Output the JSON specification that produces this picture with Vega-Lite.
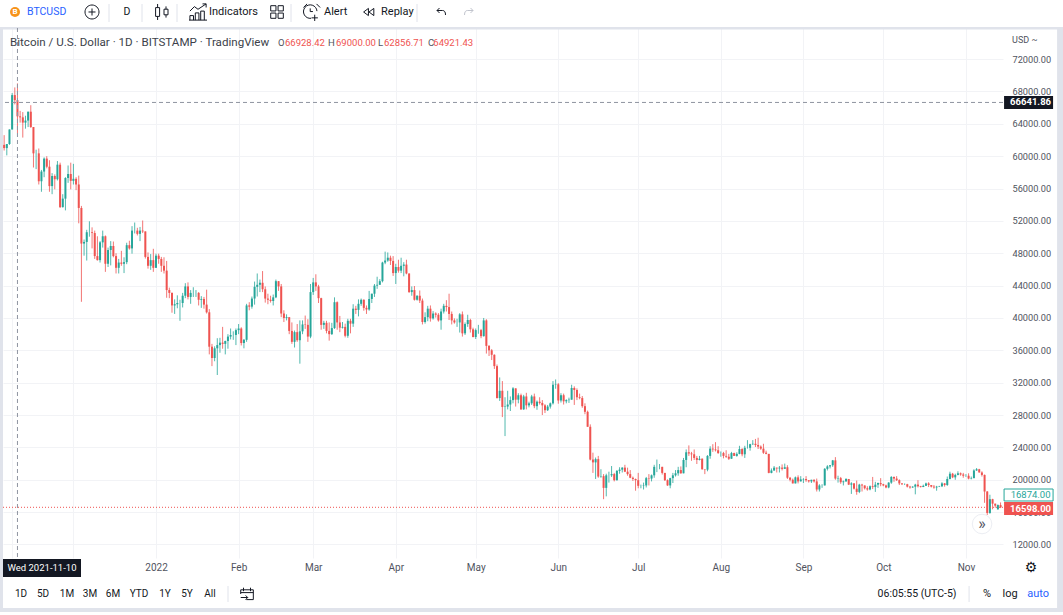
{"$schema":"https://vega.github.io/schema/vega-lite/v6.json","autosize":"none","width":1000,"height":530,"padding":{"left":3,"top":28,"right":60,"bottom":57},"background":"white",
"config":{"view":{"stroke":null},"point":{"strokeWidth":1},"text":{"font":"Roboto","fontSize":11,"color":"#131722"},"axis":{"labelFont":"Roboto","labelFontSize":9.2,"labelColor":"#50535e","gridColor":"#f2f3f6","gridWidth":1,"ticks":false,"domain":false,"title":null}},
"datasets":{"ohlc":[
{"d":"2021-11-05","o":61400,"h":62600,"l":60700,"c":61000},{"d":"2021-11-06","o":61000,"h":61500,"l":60100,"c":61500},{"d":"2021-11-07","o":61500,"h":63300,"l":61400,"c":63300},{"d":"2021-11-08","o":63300,"h":67800,"l":63300,"c":67550},{"d":"2021-11-09","o":67550,"h":68500,"l":66400,"c":66930},{"d":"2021-11-10","o":66928.42,"h":69000,"l":62856.71,"c":64921.43},{"d":"2021-11-11","o":64921,"h":65600,"l":64150,"c":64800},{"d":"2021-11-12","o":64800,"h":65450,"l":62300,"c":64150},{"d":"2021-11-13","o":64150,"h":65000,"l":63400,"c":64400},{"d":"2021-11-14","o":64400,"h":65500,"l":63600,"c":65500},{"d":"2021-11-15","o":65500,"h":66300,"l":63500,"c":63600},{"d":"2021-11-16","o":63600,"h":63600,"l":58600,"c":60350},{"d":"2021-11-17","o":60350,"h":60800,"l":58400,"c":60350},{"d":"2021-11-18","o":60350,"h":60950,"l":56500,"c":56900},{"d":"2021-11-19","o":56900,"h":58300,"l":55600,"c":58100},{"d":"2021-11-20","o":58100,"h":59850,"l":57400,"c":59700},{"d":"2021-11-21","o":59700,"h":60000,"l":58500,"c":58700},{"d":"2021-11-22","o":58700,"h":59500,"l":55600,"c":56300},{"d":"2021-11-23","o":56300,"h":57900,"l":55300,"c":57550},{"d":"2021-11-24","o":57550,"h":57750,"l":55900,"c":57150},{"d":"2021-11-25","o":57150,"h":59400,"l":57000,"c":58950},{"d":"2021-11-26","o":58950,"h":59200,"l":53600,"c":53700},{"d":"2021-11-27","o":53700,"h":55300,"l":53650,"c":54750},{"d":"2021-11-28","o":54750,"h":57400,"l":53300,"c":57300},{"d":"2021-11-29","o":57300,"h":58850,"l":56700,"c":57800},{"d":"2021-11-30","o":57800,"h":59200,"l":55900,"c":56950},
{"d":"2021-12-01","o":56950,"h":59050,"l":56500,"c":57200},{"d":"2021-12-02","o":57200,"h":57400,"l":55800,"c":56500},{"d":"2021-12-03","o":56500,"h":57600,"l":51700,"c":53600},{"d":"2021-12-04","o":53600,"h":53850,"l":42000,"c":49200},{"d":"2021-12-05","o":49200,"h":49700,"l":47700,"c":49400},{"d":"2021-12-06","o":49400,"h":50900,"l":47100,"c":50600},{"d":"2021-12-07","o":50600,"h":51950,"l":50050,"c":50600},{"d":"2021-12-08","o":50600,"h":51200,"l":48600,"c":50500},{"d":"2021-12-09","o":50500,"h":50800,"l":47300,"c":47650},{"d":"2021-12-10","o":47650,"h":50100,"l":47100,"c":47150},{"d":"2021-12-11","o":47150,"h":49500,"l":46850,"c":49350},{"d":"2021-12-12","o":49350,"h":50800,"l":48700,"c":50100},{"d":"2021-12-13","o":50100,"h":50200,"l":45700,"c":46700},{"d":"2021-12-14","o":46700,"h":48700,"l":46300,"c":48400},{"d":"2021-12-15","o":48400,"h":49500,"l":46500,"c":48900},{"d":"2021-12-16","o":48900,"h":49450,"l":47500,"c":47650},{"d":"2021-12-17","o":47650,"h":48000,"l":45500,"c":46200},{"d":"2021-12-18","o":46200,"h":47300,"l":45500,"c":46850},{"d":"2021-12-19","o":46850,"h":48300,"l":46450,"c":46700},{"d":"2021-12-20","o":46700,"h":47500,"l":45550,"c":46900},{"d":"2021-12-21","o":46900,"h":49300,"l":46650,"c":49000},{"d":"2021-12-22","o":49000,"h":49550,"l":48450,"c":48600},{"d":"2021-12-23","o":48600,"h":51350,"l":47950,"c":50800},{"d":"2021-12-24","o":50800,"h":51800,"l":50450,"c":50800},{"d":"2021-12-25","o":50800,"h":51150,"l":50200,"c":50400},{"d":"2021-12-26","o":50400,"h":51250,"l":49500,"c":50800},{"d":"2021-12-27","o":50800,"h":52050,"l":50500,"c":50700},{"d":"2021-12-28","o":50700,"h":50700,"l":47350,"c":47550},{"d":"2021-12-29","o":47550,"h":48100,"l":46100,"c":46450},{"d":"2021-12-30","o":46450,"h":47900,"l":45950,"c":47150},{"d":"2021-12-31","o":47150,"h":48550,"l":45700,"c":46200},
{"d":"2022-01-01","o":46200,"h":47950,"l":46200,"c":47700},{"d":"2022-01-02","o":47700,"h":47950,"l":46700,"c":47300},{"d":"2022-01-03","o":47300,"h":47550,"l":45700,"c":46450},{"d":"2022-01-04","o":46450,"h":47500,"l":45500,"c":45850},{"d":"2022-01-05","o":45850,"h":47050,"l":42500,"c":43450},{"d":"2022-01-06","o":43450,"h":43750,"l":42450,"c":43100},{"d":"2022-01-07","o":43100,"h":43150,"l":40650,"c":41550},{"d":"2022-01-08","o":41550,"h":42300,"l":40500,"c":41700},{"d":"2022-01-09","o":41700,"h":42800,"l":41200,"c":41850},{"d":"2022-01-10","o":41850,"h":42250,"l":39650,"c":41850},{"d":"2022-01-11","o":41850,"h":43100,"l":41300,"c":42750},{"d":"2022-01-12","o":42750,"h":44300,"l":42450,"c":43900},{"d":"2022-01-13","o":43900,"h":44400,"l":42300,"c":42600},{"d":"2022-01-14","o":42600,"h":43450,"l":41750,"c":43100},{"d":"2022-01-15","o":43100,"h":43800,"l":42600,"c":43100},{"d":"2022-01-16","o":43100,"h":43450,"l":42600,"c":43100},{"d":"2022-01-17","o":43100,"h":43200,"l":41550,"c":42250},{"d":"2022-01-18","o":42250,"h":42700,"l":41250,"c":42350},{"d":"2022-01-19","o":42350,"h":42600,"l":41150,"c":41650},{"d":"2022-01-20","o":41650,"h":43500,"l":40550,"c":40700},{"d":"2022-01-21","o":40700,"h":41100,"l":35500,"c":36450},{"d":"2022-01-22","o":36450,"h":36800,"l":34050,"c":35050},{"d":"2022-01-23","o":35050,"h":36500,"l":34650,"c":36250},{"d":"2022-01-24","o":36250,"h":37500,"l":32950,"c":36650},{"d":"2022-01-25","o":36650,"h":37550,"l":35700,"c":36950},{"d":"2022-01-26","o":36950,"h":38900,"l":36200,"c":36800},{"d":"2022-01-27","o":36800,"h":37200,"l":35500,"c":37150},{"d":"2022-01-28","o":37150,"h":38000,"l":36200,"c":37700},{"d":"2022-01-29","o":37700,"h":38700,"l":37350,"c":37900},{"d":"2022-01-30","o":37900,"h":38350,"l":37300,"c":37900},{"d":"2022-01-31","o":37900,"h":38700,"l":36650,"c":38500},
{"d":"2022-02-01","o":38500,"h":39250,"l":38000,"c":38700},{"d":"2022-02-02","o":38700,"h":38850,"l":36600,"c":36900},{"d":"2022-02-03","o":36900,"h":37400,"l":36250,"c":37300},{"d":"2022-02-04","o":37300,"h":41750,"l":37050,"c":41550},{"d":"2022-02-05","o":41550,"h":41950,"l":40950,"c":41400},{"d":"2022-02-06","o":41400,"h":42650,"l":41150,"c":42400},{"d":"2022-02-07","o":42400,"h":44500,"l":41650,"c":43850},{"d":"2022-02-08","o":43850,"h":45500,"l":42650,"c":44100},{"d":"2022-02-09","o":44100,"h":44750,"l":43200,"c":44350},{"d":"2022-02-10","o":44350,"h":45800,"l":43200,"c":43550},{"d":"2022-02-11","o":43550,"h":43900,"l":41900,"c":42400},{"d":"2022-02-12","o":42400,"h":43000,"l":41700,"c":42250},{"d":"2022-02-13","o":42250,"h":42750,"l":41900,"c":42100},{"d":"2022-02-14","o":42100,"h":42900,"l":41550,"c":42550},{"d":"2022-02-15","o":42550,"h":44750,"l":42450,"c":44550},{"d":"2022-02-16","o":44550,"h":44550,"l":43350,"c":43900},{"d":"2022-02-17","o":43900,"h":44200,"l":40100,"c":40550},{"d":"2022-02-18","o":40550,"h":40950,"l":39500,"c":40000},{"d":"2022-02-19","o":40000,"h":40450,"l":39700,"c":40100},{"d":"2022-02-20","o":40100,"h":40100,"l":38000,"c":38400},{"d":"2022-02-21","o":38400,"h":39450,"l":36800,"c":37050},{"d":"2022-02-22","o":37050,"h":38450,"l":36350,"c":38250},{"d":"2022-02-23","o":38250,"h":39250,"l":37050,"c":37250},{"d":"2022-02-24","o":37250,"h":39700,"l":34350,"c":38350},{"d":"2022-02-25","o":38350,"h":39700,"l":38000,"c":39200},{"d":"2022-02-26","o":39200,"h":40300,"l":38650,"c":39150},{"d":"2022-02-27","o":39150,"h":39850,"l":37050,"c":37700},{"d":"2022-02-28","o":37700,"h":44200,"l":37500,"c":43200},
{"d":"2022-03-01","o":43200,"h":44950,"l":42850,"c":44400},{"d":"2022-03-02","o":44400,"h":45400,"l":43350,"c":43900},{"d":"2022-03-03","o":43900,"h":44100,"l":41850,"c":42450},{"d":"2022-03-04","o":42450,"h":42500,"l":38550,"c":39150},{"d":"2022-03-05","o":39150,"h":39650,"l":38650,"c":39400},{"d":"2022-03-06","o":39400,"h":39650,"l":38100,"c":38400},{"d":"2022-03-07","o":38400,"h":39450,"l":37200,"c":38000},{"d":"2022-03-08","o":38000,"h":39400,"l":37900,"c":38750},{"d":"2022-03-09","o":38750,"h":42550,"l":38650,"c":41950},{"d":"2022-03-10","o":41950,"h":42050,"l":38550,"c":39450},{"d":"2022-03-11","o":39450,"h":40250,"l":38250,"c":38800},{"d":"2022-03-12","o":38800,"h":39500,"l":38700,"c":38900},{"d":"2022-03-13","o":38900,"h":39300,"l":37600,"c":37800},{"d":"2022-03-14","o":37800,"h":39900,"l":37550,"c":39650},{"d":"2022-03-15","o":39650,"h":39900,"l":38100,"c":39300},{"d":"2022-03-16","o":39300,"h":41700,"l":38900,"c":41150},{"d":"2022-03-17","o":41150,"h":41500,"l":40500,"c":41000},{"d":"2022-03-18","o":41000,"h":42300,"l":40200,"c":41750},{"d":"2022-03-19","o":41750,"h":42400,"l":41500,"c":42250},{"d":"2022-03-20","o":42250,"h":42300,"l":40900,"c":41250},{"d":"2022-03-21","o":41250,"h":41550,"l":40500,"c":41050},{"d":"2022-03-22","o":41050,"h":43350,"l":40900,"c":42350},{"d":"2022-03-23","o":42350,"h":43000,"l":41850,"c":43000},{"d":"2022-03-24","o":43000,"h":44200,"l":42600,"c":44000},{"d":"2022-03-25","o":44000,"h":45100,"l":43600,"c":44100},{"d":"2022-03-26","o":44100,"h":44800,"l":44100,"c":44550},{"d":"2022-03-27","o":44550,"h":46950,"l":44400,"c":46850},{"d":"2022-03-28","o":46850,"h":48200,"l":46650,"c":47100},{"d":"2022-03-29","o":47100,"h":48100,"l":46950,"c":47450},{"d":"2022-03-30","o":47450,"h":47700,"l":46550,"c":47050},{"d":"2022-03-31","o":47050,"h":47650,"l":45200,"c":45550},
{"d":"2022-04-01","o":45550,"h":46700,"l":44200,"c":46300},{"d":"2022-04-02","o":46300,"h":47200,"l":45600,"c":45850},{"d":"2022-04-03","o":45850,"h":47450,"l":45550,"c":46450},{"d":"2022-04-04","o":46450,"h":46900,"l":45150,"c":46600},{"d":"2022-04-05","o":46600,"h":47200,"l":45400,"c":45500},{"d":"2022-04-06","o":45500,"h":45500,"l":43100,"c":43200},{"d":"2022-04-07","o":43200,"h":43900,"l":42750,"c":43450},{"d":"2022-04-08","o":43450,"h":43950,"l":42150,"c":42250},{"d":"2022-04-09","o":42250,"h":42800,"l":42150,"c":42750},{"d":"2022-04-10","o":42750,"h":43400,"l":41850,"c":42150},{"d":"2022-04-11","o":42150,"h":42400,"l":39200,"c":39500},{"d":"2022-04-12","o":39500,"h":40700,"l":39300,"c":40100},{"d":"2022-04-13","o":40100,"h":41500,"l":39600,"c":41150},{"d":"2022-04-14","o":41150,"h":41550,"l":39550,"c":39950},{"d":"2022-04-15","o":39950,"h":40850,"l":39800,"c":40550},{"d":"2022-04-16","o":40550,"h":40700,"l":40050,"c":40400},{"d":"2022-04-17","o":40400,"h":40600,"l":39550,"c":39700},{"d":"2022-04-18","o":39700,"h":41150,"l":38550,"c":40800},{"d":"2022-04-19","o":40800,"h":41750,"l":40550,"c":41500},{"d":"2022-04-20","o":41500,"h":42200,"l":40800,"c":41350},{"d":"2022-04-21","o":41350,"h":43000,"l":39750,"c":40500},{"d":"2022-04-22","o":40500,"h":40800,"l":39200,"c":39700},{"d":"2022-04-23","o":39700,"h":39950,"l":39300,"c":39450},{"d":"2022-04-24","o":39450,"h":39900,"l":38900,"c":39450},{"d":"2022-04-25","o":39450,"h":40600,"l":38200,"c":40450},{"d":"2022-04-26","o":40450,"h":40800,"l":37700,"c":38100},{"d":"2022-04-27","o":38100,"h":39450,"l":37900,"c":39250},{"d":"2022-04-28","o":39250,"h":40400,"l":38900,"c":39750},{"d":"2022-04-29","o":39750,"h":39900,"l":38200,"c":38600},{"d":"2022-04-30","o":38600,"h":38800,"l":37600,"c":37650},
{"d":"2022-05-01","o":37650,"h":38700,"l":37400,"c":38500},{"d":"2022-05-02","o":38500,"h":39150,"l":38050,"c":38500},{"d":"2022-05-03","o":38500,"h":38650,"l":37500,"c":37750},{"d":"2022-05-04","o":37750,"h":40000,"l":37700,"c":39700},{"d":"2022-05-05","o":39700,"h":39850,"l":35600,"c":36550},{"d":"2022-05-06","o":36550,"h":36650,"l":35300,"c":36000},{"d":"2022-05-07","o":36000,"h":36150,"l":34800,"c":35450},{"d":"2022-05-08","o":35450,"h":35500,"l":33700,"c":34050},{"d":"2022-05-09","o":34050,"h":34250,"l":30050,"c":30100},{"d":"2022-05-10","o":30100,"h":32650,"l":29750,"c":31000},{"d":"2022-05-11","o":31000,"h":32200,"l":27750,"c":29000},{"d":"2022-05-12","o":29000,"h":30200,"l":25400,"c":29050},{"d":"2022-05-13","o":29050,"h":31000,"l":28700,"c":29300},{"d":"2022-05-14","o":29300,"h":30300,"l":28500,"c":29850},{"d":"2022-05-15","o":29850,"h":31450,"l":29450,"c":31300},{"d":"2022-05-16","o":31300,"h":31300,"l":29050,"c":29900},{"d":"2022-05-17","o":29900,"h":30700,"l":29450,"c":30450},{"d":"2022-05-18","o":30450,"h":30650,"l":28650,"c":28700},{"d":"2022-05-19","o":28700,"h":30500,"l":28650,"c":30300},{"d":"2022-05-20","o":30300,"h":30750,"l":28700,"c":29200},{"d":"2022-05-21","o":29200,"h":29650,"l":28950,"c":29450},{"d":"2022-05-22","o":29450,"h":30500,"l":29250,"c":30300},{"d":"2022-05-23","o":30300,"h":30650,"l":28850,"c":29100},{"d":"2022-05-24","o":29100,"h":29800,"l":28650,"c":29650},{"d":"2022-05-25","o":29650,"h":30200,"l":29300,"c":29500},{"d":"2022-05-26","o":29500,"h":29850,"l":28000,"c":29200},{"d":"2022-05-27","o":29200,"h":29350,"l":28250,"c":28600},{"d":"2022-05-28","o":28600,"h":29250,"l":28500,"c":29050},{"d":"2022-05-29","o":29050,"h":29550,"l":28800,"c":29450},{"d":"2022-05-30","o":29450,"h":32200,"l":29300,"c":31750},{"d":"2022-05-31","o":31750,"h":32400,"l":31250,"c":31800},
{"d":"2022-06-01","o":31800,"h":31950,"l":29400,"c":29800},{"d":"2022-06-02","o":29800,"h":30700,"l":29550,"c":30450},{"d":"2022-06-03","o":30450,"h":30650,"l":29300,"c":29700},{"d":"2022-06-04","o":29700,"h":29950,"l":29450,"c":29850},{"d":"2022-06-05","o":29850,"h":30150,"l":29500,"c":29900},{"d":"2022-06-06","o":29900,"h":31750,"l":29900,"c":31350},{"d":"2022-06-07","o":31350,"h":31550,"l":29250,"c":31100},{"d":"2022-06-08","o":31100,"h":31300,"l":29850,"c":30200},{"d":"2022-06-09","o":30200,"h":30650,"l":29950,"c":30100},{"d":"2022-06-10","o":30100,"h":30350,"l":28900,"c":29100},{"d":"2022-06-11","o":29100,"h":29450,"l":28100,"c":28400},{"d":"2022-06-12","o":28400,"h":28550,"l":26550,"c":26550},{"d":"2022-06-13","o":26550,"h":26850,"l":22400,"c":22500},{"d":"2022-06-14","o":22500,"h":23350,"l":20850,"c":22150},{"d":"2022-06-15","o":22150,"h":22750,"l":20100,"c":22550},{"d":"2022-06-16","o":22550,"h":22950,"l":20250,"c":20400},{"d":"2022-06-17","o":20400,"h":21300,"l":20250,"c":20450},{"d":"2022-06-18","o":20450,"h":20700,"l":17600,"c":19000},{"d":"2022-06-19","o":19000,"h":20750,"l":17950,"c":20550},{"d":"2022-06-20","o":20550,"h":21000,"l":19650,"c":20550},{"d":"2022-06-21","o":20550,"h":21700,"l":20350,"c":20700},{"d":"2022-06-22","o":20700,"h":20850,"l":19800,"c":19950},{"d":"2022-06-23","o":19950,"h":21200,"l":19900,"c":21100},{"d":"2022-06-24","o":21100,"h":21550,"l":20750,"c":21250},{"d":"2022-06-25","o":21250,"h":21550,"l":20900,"c":21500},{"d":"2022-06-26","o":21500,"h":21850,"l":20950,"c":21000},{"d":"2022-06-27","o":21000,"h":21500,"l":20500,"c":20700},{"d":"2022-06-28","o":20700,"h":21200,"l":20200,"c":20250},{"d":"2022-06-29","o":20250,"h":20400,"l":19850,"c":20100},{"d":"2022-06-30","o":20100,"h":20150,"l":18650,"c":19950},
{"d":"2022-07-01","o":19950,"h":20850,"l":18950,"c":19250},{"d":"2022-07-02","o":19250,"h":19400,"l":18950,"c":19250},{"d":"2022-07-03","o":19250,"h":19650,"l":18800,"c":19300},{"d":"2022-07-04","o":19300,"h":20350,"l":19050,"c":20200},{"d":"2022-07-05","o":20200,"h":20700,"l":19300,"c":20150},{"d":"2022-07-06","o":20150,"h":20650,"l":19800,"c":20550},{"d":"2022-07-07","o":20550,"h":21850,"l":20250,"c":21600},{"d":"2022-07-08","o":21600,"h":22500,"l":20950,"c":21600},{"d":"2022-07-09","o":21600,"h":21950,"l":21300,"c":21600},{"d":"2022-07-10","o":21600,"h":21600,"l":20650,"c":20850},{"d":"2022-07-11","o":20850,"h":20850,"l":19850,"c":19950},{"d":"2022-07-12","o":19950,"h":20050,"l":19250,"c":19300},{"d":"2022-07-13","o":19300,"h":20250,"l":18950,"c":20200},{"d":"2022-07-14","o":20200,"h":20850,"l":19600,"c":20550},{"d":"2022-07-15","o":20550,"h":21200,"l":20400,"c":20800},{"d":"2022-07-16","o":20800,"h":21600,"l":20500,"c":21200},{"d":"2022-07-17","o":21200,"h":21650,"l":20750,"c":20800},{"d":"2022-07-18","o":20800,"h":22700,"l":20800,"c":22450},{"d":"2022-07-19","o":22450,"h":23750,"l":21550,"c":23400},{"d":"2022-07-20","o":23400,"h":24250,"l":22950,"c":23250},{"d":"2022-07-21","o":23250,"h":23450,"l":22350,"c":23150},{"d":"2022-07-22","o":23150,"h":23750,"l":22450,"c":22700},{"d":"2022-07-23","o":22700,"h":22950,"l":21950,"c":22450},{"d":"2022-07-24","o":22450,"h":22950,"l":22400,"c":22600},{"d":"2022-07-25","o":22600,"h":22650,"l":21250,"c":21300},{"d":"2022-07-26","o":21300,"h":21300,"l":20700,"c":21250},{"d":"2022-07-27","o":21250,"h":23050,"l":21050,"c":22950},{"d":"2022-07-28","o":22950,"h":24150,"l":22600,"c":23850},{"d":"2022-07-29","o":23850,"h":24400,"l":23450,"c":23750},{"d":"2022-07-30","o":23750,"h":24650,"l":23500,"c":23650},{"d":"2022-07-31","o":23650,"h":24150,"l":23200,"c":23300},
{"d":"2022-08-01","o":23300,"h":23500,"l":22850,"c":23300},{"d":"2022-08-02","o":23300,"h":23450,"l":22650,"c":22950},{"d":"2022-08-03","o":22950,"h":23650,"l":22700,"c":22850},{"d":"2022-08-04","o":22850,"h":23200,"l":22450,"c":22600},{"d":"2022-08-05","o":22600,"h":23450,"l":22600,"c":23300},{"d":"2022-08-06","o":23300,"h":23350,"l":22950,"c":22950},{"d":"2022-08-07","o":22950,"h":23400,"l":22850,"c":23200},{"d":"2022-08-08","o":23200,"h":24200,"l":23150,"c":23800},{"d":"2022-08-09","o":23800,"h":23900,"l":22900,"c":23150},{"d":"2022-08-10","o":23150,"h":24200,"l":22700,"c":23950},{"d":"2022-08-11","o":23950,"h":24900,"l":23850,"c":23950},{"d":"2022-08-12","o":23950,"h":24450,"l":23600,"c":24400},{"d":"2022-08-13","o":24400,"h":24900,"l":24300,"c":24450},{"d":"2022-08-14","o":24450,"h":25050,"l":24050,"c":24300},{"d":"2022-08-15","o":24300,"h":25200,"l":23800,"c":24100},{"d":"2022-08-16","o":24100,"h":24250,"l":23700,"c":23850},{"d":"2022-08-17","o":23850,"h":24450,"l":23200,"c":23350},{"d":"2022-08-18","o":23350,"h":23600,"l":23150,"c":23200},{"d":"2022-08-19","o":23200,"h":23200,"l":20800,"c":20850},{"d":"2022-08-20","o":20850,"h":21400,"l":20800,"c":21150},{"d":"2022-08-21","o":21150,"h":21700,"l":21100,"c":21500},{"d":"2022-08-22","o":21500,"h":21500,"l":20900,"c":21400},{"d":"2022-08-23","o":21400,"h":21700,"l":20900,"c":21500},{"d":"2022-08-24","o":21500,"h":21900,"l":21150,"c":21350},{"d":"2022-08-25","o":21350,"h":22000,"l":21350,"c":21550},{"d":"2022-08-26","o":21550,"h":21800,"l":20100,"c":20250},{"d":"2022-08-27","o":20250,"h":20350,"l":19800,"c":20000},{"d":"2022-08-28","o":20000,"h":20150,"l":19550,"c":19550},{"d":"2022-08-29","o":19550,"h":20400,"l":19550,"c":20300},{"d":"2022-08-30","o":20300,"h":20550,"l":19550,"c":19800},{"d":"2022-08-31","o":19800,"h":20450,"l":19800,"c":20050},
{"d":"2022-09-01","o":20050,"h":20200,"l":19600,"c":20100},{"d":"2022-09-02","o":20100,"h":20450,"l":19750,"c":19950},{"d":"2022-09-03","o":19950,"h":19950,"l":19650,"c":19800},{"d":"2022-09-04","o":19800,"h":20000,"l":19600,"c":20000},{"d":"2022-09-05","o":20000,"h":20050,"l":19650,"c":19800},{"d":"2022-09-06","o":19800,"h":20150,"l":18550,"c":18800},{"d":"2022-09-07","o":18800,"h":19450,"l":18550,"c":19300},{"d":"2022-09-08","o":19300,"h":19450,"l":19000,"c":19300},{"d":"2022-09-09","o":19300,"h":21450,"l":19300,"c":21350},{"d":"2022-09-10","o":21350,"h":21800,"l":21150,"c":21650},{"d":"2022-09-11","o":21650,"h":21800,"l":21400,"c":21800},{"d":"2022-09-12","o":21800,"h":22450,"l":21600,"c":22400},{"d":"2022-09-13","o":22400,"h":22800,"l":20000,"c":20150},{"d":"2022-09-14","o":20150,"h":20500,"l":19650,"c":20200},{"d":"2022-09-15","o":20200,"h":20350,"l":19500,"c":19700},{"d":"2022-09-16","o":19700,"h":19900,"l":19300,"c":19800},{"d":"2022-09-17","o":19800,"h":20200,"l":19750,"c":20100},{"d":"2022-09-18","o":20100,"h":20100,"l":19350,"c":19400},{"d":"2022-09-19","o":19400,"h":19700,"l":18250,"c":19550},{"d":"2022-09-20","o":19550,"h":19600,"l":18800,"c":18900},{"d":"2022-09-21","o":18900,"h":19900,"l":18150,"c":18500},{"d":"2022-09-22","o":18500,"h":19500,"l":18350,"c":19400},{"d":"2022-09-23","o":19400,"h":19500,"l":18550,"c":19300},{"d":"2022-09-24","o":19300,"h":19300,"l":18800,"c":18950},{"d":"2022-09-25","o":18950,"h":19200,"l":18650,"c":18800},{"d":"2022-09-26","o":18800,"h":19300,"l":18700,"c":19200},{"d":"2022-09-27","o":19200,"h":20350,"l":18850,"c":19100},{"d":"2022-09-28","o":19100,"h":19750,"l":18500,"c":19400},{"d":"2022-09-29","o":19400,"h":19650,"l":19000,"c":19600},{"d":"2022-09-30","o":19600,"h":20200,"l":19200,"c":19450},
{"d":"2022-10-01","o":19450,"h":19500,"l":19200,"c":19300},{"d":"2022-10-02","o":19300,"h":19400,"l":18950,"c":19050},{"d":"2022-10-03","o":19050,"h":19700,"l":18950,"c":19650},{"d":"2022-10-04","o":19650,"h":20450,"l":19500,"c":20350},{"d":"2022-10-05","o":20350,"h":20400,"l":19750,"c":20150},{"d":"2022-10-06","o":20150,"h":20450,"l":19850,"c":19950},{"d":"2022-10-07","o":19950,"h":20050,"l":19350,"c":19550},{"d":"2022-10-08","o":19550,"h":19600,"l":19350,"c":19450},{"d":"2022-10-09","o":19450,"h":19550,"l":19350,"c":19450},{"d":"2022-10-10","o":19450,"h":19500,"l":19050,"c":19150},{"d":"2022-10-11","o":19150,"h":19250,"l":18900,"c":19050},{"d":"2022-10-12","o":19050,"h":19200,"l":19000,"c":19150},{"d":"2022-10-13","o":19150,"h":19500,"l":18200,"c":19400},{"d":"2022-10-14","o":19400,"h":19950,"l":19050,"c":19200},{"d":"2022-10-15","o":19200,"h":19250,"l":19050,"c":19100},{"d":"2022-10-16","o":19100,"h":19400,"l":19100,"c":19250},{"d":"2022-10-17","o":19250,"h":19650,"l":19250,"c":19550},{"d":"2022-10-18","o":19550,"h":19700,"l":19100,"c":19350},{"d":"2022-10-19","o":19350,"h":19350,"l":19050,"c":19150},{"d":"2022-10-20","o":19150,"h":19350,"l":18900,"c":19050},{"d":"2022-10-21","o":19050,"h":19250,"l":18650,"c":19150},{"d":"2022-10-22","o":19150,"h":19250,"l":19100,"c":19200},{"d":"2022-10-23","o":19200,"h":19700,"l":19100,"c":19550},{"d":"2022-10-24","o":19550,"h":19600,"l":19150,"c":19350},{"d":"2022-10-25","o":19350,"h":20400,"l":19250,"c":20100},{"d":"2022-10-26","o":20100,"h":21000,"l":20050,"c":20750},{"d":"2022-10-27","o":20750,"h":20850,"l":20200,"c":20300},{"d":"2022-10-28","o":20300,"h":20750,"l":20000,"c":20600},{"d":"2022-10-29","o":20600,"h":21050,"l":20550,"c":20800},{"d":"2022-10-30","o":20800,"h":20900,"l":20500,"c":20650},{"d":"2022-10-31","o":20650,"h":20850,"l":20250,"c":20500},
{"d":"2022-11-01","o":20500,"h":20700,"l":20350,"c":20500},{"d":"2022-11-02","o":20500,"h":20800,"l":20050,"c":20150},{"d":"2022-11-03","o":20150,"h":20400,"l":20050,"c":20200},{"d":"2022-11-04","o":20200,"h":21300,"l":20200,"c":21150},{"d":"2022-11-05","o":21150,"h":21450,"l":21100,"c":21300},{"d":"2022-11-06","o":21300,"h":21350,"l":20900,"c":20900},{"d":"2022-11-07","o":20900,"h":21050,"l":20400,"c":20600},{"d":"2022-11-08","o":20600,"h":20650,"l":17150,"c":18550},{"d":"2022-11-09","o":18550,"h":18600,"l":15650,"c":15900},{"d":"2022-11-10","o":15900,"h":18150,"l":15800,"c":17600},{"d":"2022-11-11","o":17600,"h":17650,"l":16350,"c":17050},{"d":"2022-11-12","o":17050,"h":17050,"l":16550,"c":16800},{"d":"2022-11-13","o":16350,"h":16950,"l":16300,"c":16874},{"d":"2022-11-14","o":16874,"h":17200,"l":16500,"c":16598}
]},
"layer":[
{"data":{"values":[{}]},"mark":{"type":"rect","color":"#e0e3eb"},"encoding":{"x":{"datum":1635773580000,"type":"temporal","scale":{"type":"utc","domain":["2021-11-04T13:40:00Z","2022-11-14T22:00:00Z"],"nice":false,"padding":0},"axis":{"grid":true,"labelOverlap":false,"tickCount":30,"values":["2021-11-08","2021-12-01","2022-01-01","2022-02-01","2022-03-01","2022-04-01","2022-05-01","2022-06-01","2022-07-01","2022-08-01","2022-09-01","2022-10-01","2022-11-01"],"labelFontSize":10,"labelExpr":"utcyear(datum.value)<2022?'':(utcmonth(datum.value)==0?'2022':utcFormat(datum.value,'%b'))","labelPadding":4,"title":null}},"x2":{"datum":1670638440000},"y":{"datum":75968,"type":"quantitative","scale":{"domain":[10331,75844],"nice":false,"zero":false},"axis":{"grid":true,"labelOverlap":false,"tickCount":30,"orient":"right","values":[12000,16000,20000,24000,28000,32000,36000,40000,44000,48000,52000,56000,60000,64000,68000,72000],"format":".2f","labelPadding":9,"title":null}},"y2":{"datum":75660}}},
{"data":{"values":[{}]},"mark":{"type":"rect","color":"#e0e3eb"},"encoding":{"x":{"datum":1635935740000,"type":"temporal"},"x2":{"datum":1636033040000},"y":{"datum":75968},"y2":{"datum":4151}}},
{"data":{"values":[{}]},"mark":{"type":"rect","color":"#e0e3eb"},"encoding":{"x":{"datum":1670216820000,"type":"temporal"},"x2":{"datum":1670411400000},"y":{"datum":75968},"y2":{"datum":4151}}},
{"data":{"values":[{}]},"mark":{"type":"rect","color":"#e0e3eb"},"encoding":{"x":{"datum":1635773580000,"type":"temporal"},"x2":{"datum":1670638440000},"y":{"datum":4151},"y2":{"datum":3657}}},
{"data":{"name":"ohlc"},"mark":{"type":"rule","strokeWidth":1,"opacity":0.8},"encoding":{"x":{"field":"d","type":"temporal"},"y":{"field":"h","type":"quantitative"},"y2":{"field":"l"},"color":{"condition":{"test":"datum.c>=datum.o","value":"#26a69a"},"value":"#ef5350"}}},
{"data":{"name":"ohlc"},"mark":{"type":"bar","size":2},"encoding":{"x":{"field":"d","type":"temporal"},"y":{"field":"o","type":"quantitative"},"y2":{"field":"c"},"color":{"condition":{"test":"datum.c>=datum.o","value":"#26a69a"},"value":"#ef5350"}}},
{"data":{"values":[{}]},"mark":{"type":"rule","color":"#8f94a0","strokeDash":[4,3]},"encoding":{"y":{"datum":66641.86}}},
{"data":{"values":[{}]},"mark":{"type":"rule","color":"#8f94a0","strokeDash":[4,3]},"encoding":{"x":{"datum":1636502400000,"type":"temporal"}}},
{"data":{"values":[{}]},"mark":{"type":"rule","color":"#ef5350","strokeDash":[1,2]},"encoding":{"y":{"datum":16598}}},
{"data":{"values":[{}]},"mark":{"type":"rect","color":"#131722"},"encoding":{"x":{"datum":1668497900000,"type":"temporal"},"x2":{"datum":1670087090000},"y":{"datum":67439},"y2":{"datum":65832}}},
{"data":{"values":[{}]},"mark":{"type":"text","text":"66641.86","color":"white","fontSize":9.5,"fontWeight":"bold"},"encoding":{"x":{"datum":1669357340000,"type":"temporal"},"y":{"datum":66641.86}}},
{"data":{"values":[{}]},"mark":{"type":"rect","fill":"white","stroke":"#26a69a"},"encoding":{"x":{"datum":1668497900000,"type":"temporal"},"x2":{"datum":1670087090000},"y":{"datum":18860},"y2":{"datum":17377}}},
{"data":{"values":[{}]},"mark":{"type":"text","text":"16874.00","color":"#26a69a","fontSize":9.5},"encoding":{"x":{"datum":1669357340000,"type":"temporal"},"y":{"datum":18119}}},
{"data":{"values":[{}]},"mark":{"type":"rect","color":"#ef5350"},"encoding":{"x":{"datum":1668497900000,"type":"temporal"},"x2":{"datum":1670087090000},"y":{"datum":17253},"y2":{"datum":15646}}},
{"data":{"values":[{}]},"mark":{"type":"text","text":"16598.00","color":"white","fontSize":9.5,"fontWeight":"bold"},"encoding":{"x":{"datum":1669357340000,"type":"temporal"},"y":{"datum":16388}}},
{"data":{"values":[{}]},"mark":{"type":"rect","color":"#131722"},"encoding":{"x":{"datum":1636033040000,"type":"temporal"},"x2":{"datum":1638562770000},"y":{"datum":10208},"y2":{"datum":7983}}},
{"data":{"values":[{}]},"mark":{"type":"text","text":"Wed 2021-11-10","color":"white","fontSize":9.5},"encoding":{"x":{"datum":1637297900000,"type":"temporal"},"y":{"datum":9095}}},
{"data":{"values":[{}]},"mark":{"type":"text","text":"Bitcoin / U.S. Dollar · 1D · BITSTAMP · TradingView","align":"left","fontSize":11.6,"color":"#3c3f4a"},"encoding":{"x":{"datum":1636260060000,"type":"temporal"},"y":{"datum":73990}}},
{"data":{"values":[{}]},"mark":{"type":"text","text":"O","align":"left","fontSize":9.5,"color":"#50535e"},"encoding":{"x":{"datum":1644951960000,"type":"temporal"},"y":{"datum":73990}}},
{"data":{"values":[{}]},"mark":{"type":"text","text":"66928.42","align":"left","fontSize":9.5,"color":"#ef5350"},"encoding":{"x":{"datum":1645178980000,"type":"temporal"},"y":{"datum":73990}}},
{"data":{"values":[{}]},"mark":{"type":"text","text":"H","align":"left","fontSize":9.5,"color":"#50535e"},"encoding":{"x":{"datum":1646573580000,"type":"temporal"},"y":{"datum":73990}}},
{"data":{"values":[{}]},"mark":{"type":"text","text":"69000.00","align":"left","fontSize":9.5,"color":"#ef5350"},"encoding":{"x":{"datum":1646833040000,"type":"temporal"},"y":{"datum":73990}}},
{"data":{"values":[{}]},"mark":{"type":"text","text":"L","align":"left","fontSize":9.5,"color":"#50535e"},"encoding":{"x":{"datum":1648195200000,"type":"temporal"},"y":{"datum":73990}}},
{"data":{"values":[{}]},"mark":{"type":"text","text":"62856.71","align":"left","fontSize":9.5,"color":"#ef5350"},"encoding":{"x":{"datum":1648389790000,"type":"temporal"},"y":{"datum":73990}}},
{"data":{"values":[{}]},"mark":{"type":"text","text":"C","align":"left","fontSize":9.5,"color":"#50535e"},"encoding":{"x":{"datum":1649816820000,"type":"temporal"},"y":{"datum":73990}}},
{"data":{"values":[{}]},"mark":{"type":"text","text":"64921.43","align":"left","fontSize":9.5,"color":"#ef5350"},"encoding":{"x":{"datum":1649988710000,"type":"temporal"},"y":{"datum":73990}}},
{"data":{"values":[{}]},"mark":{"type":"text","text":"USD ~","align":"left","fontSize":9,"color":"#50535e"},"encoding":{"x":{"datum":1668757360000,"type":"temporal"},"y":{"datum":74361}}},
{"data":{"values":[{}]},"mark":{"type":"point","shape":"circle","filled":true,"size":100,"color":"#f7931a","opacity":1},"encoding":{"x":{"datum":1636422230000,"type":"temporal"},"y":{"datum":77822}}},
{"data":{"values":[{}]},"mark":{"type":"text","text":"B","color":"white","fontSize":8,"fontWeight":"bold"},"encoding":{"x":{"datum":1636422230000,"type":"temporal"},"y":{"datum":77822}}},
{"data":{"values":[{}]},"mark":{"type":"text","text":"BTCUSD","align":"left","fontSize":10.5,"color":"#2962ff"},"encoding":{"x":{"datum":1636811420000,"type":"temporal"},"y":{"datum":77822}}},
{"data":{"values":[{}]},"mark":{"type":"point","shape":"M1,0A1,1 0 1 1 -1,0A1,1 0 1 1 1,0M-.5,0H.5M0,-.5V.5","size":196,"color":"#131722","opacity":1,"strokeWidth":1},"encoding":{"x":{"datum":1638919520000,"type":"temporal"},"y":{"datum":77822}}},
{"data":{"values":[{}]},"mark":{"type":"text","text":"D","fontSize":10.5},"encoding":{"x":{"datum":1640054660000,"type":"temporal"},"y":{"datum":77822}}},
{"data":{"values":[{}]},"mark":{"type":"point","shape":"M-.55,-1V-.55M-.55,.55V1M-.8,-.55H-.3V.55H-.8ZM.5,-.7V-.35M.5,.35V.7M.25,-.35H.75V.35H.25Z","size":256,"color":"#131722","opacity":1,"strokeWidth":1},"encoding":{"x":{"datum":1641189790000,"type":"temporal"},"y":{"datum":77822}}},
{"data":{"values":[{}]},"mark":{"type":"point","shape":"M-1,.9H1M-.9,.9V.4H-.5V.9M-.3,.9V.1H.1V.9M.3,.9V-.1H.7V.9M-.9,-.1L-.4,-.6L0,-.3L.9,-.9M.5,-.9H.9V-.5","size":324,"color":"#131722","opacity":1,"strokeWidth":1},"encoding":{"x":{"datum":1642357360000,"type":"temporal"},"y":{"datum":77822}}},
{"data":{"values":[{}]},"mark":{"type":"text","text":"Indicators","align":"left","fontSize":11},"encoding":{"x":{"datum":1642714120000,"type":"temporal"},"y":{"datum":77822}}},
{"data":{"values":[{}]},"mark":{"type":"point","shape":"M-.9,-.9H-.15V-.15H-.9ZM.15,-.9H.9V-.15H.15ZM-.9,.15H-.15V.9H-.9ZM.15,.15H.9V.9H.15Z","size":196,"color":"#131722","opacity":1,"strokeWidth":1},"encoding":{"x":{"datum":1644919520000,"type":"temporal"},"y":{"datum":77822}}},
{"data":{"values":[{}]},"mark":{"type":"point","shape":"M.55,-.1A.75,.75 0 1 0 -.1,.7M.3,.3V1M-.05,.65H.65M-.95,-.5L-.55,-.9M.5,-.9L.9,-.5M-.2,-.4V-.05H.1","size":324,"color":"#131722","opacity":1,"strokeWidth":1},"encoding":{"x":{"datum":1646054660000,"type":"temporal"},"y":{"datum":77822}}},
{"data":{"values":[{}]},"mark":{"type":"text","text":"Alert","align":"left","fontSize":11},"encoding":{"x":{"datum":1646443850000,"type":"temporal"},"y":{"datum":77822}}},
{"data":{"values":[{}]},"mark":{"type":"point","shape":"M-.1,-.6V.6L-.9,0ZM.8,-.6V.6L0,0Z","size":144,"color":"#131722","opacity":1,"strokeWidth":1},"encoding":{"x":{"datum":1647903310000,"type":"temporal"},"y":{"datum":77822}}},
{"data":{"values":[{}]},"mark":{"type":"text","text":"Replay","align":"left","fontSize":11},"encoding":{"x":{"datum":1648292500000,"type":"temporal"},"y":{"datum":77822}}},
{"data":{"values":[{}]},"mark":{"type":"point","shape":"M-.8,-.3H.3C.7,-.3 .9,0 .9,.6M-.8,-.3L-.3,-.8M-.8,-.3L-.3,.2","size":100,"color":"#131722","opacity":1,"strokeWidth":1},"encoding":{"x":{"datum":1650238440000,"type":"temporal"},"y":{"datum":77822}}},
{"data":{"values":[{}]},"mark":{"type":"point","shape":"M.8,-.3H-.3C-.7,-.3 -.9,0 -.9,.6M.8,-.3L.3,-.8M.8,-.3L.3,.2","size":100,"color":"#c1c4cd","opacity":1,"strokeWidth":1},"encoding":{"x":{"datum":1651146550000,"type":"temporal"},"y":{"datum":77822}}},
{"data":{"values":[{}]},"mark":{"type":"rule","color":"#e0e3eb"},"encoding":{"x":{"datum":1639470880000,"type":"temporal"},"y":{"datum":78810},"y2":{"datum":76585}}},
{"data":{"values":[{}]},"mark":{"type":"rule","color":"#e0e3eb"},"encoding":{"x":{"datum":1640541150000,"type":"temporal"},"y":{"datum":78810},"y2":{"datum":76585}}},
{"data":{"values":[{}]},"mark":{"type":"rule","color":"#e0e3eb"},"encoding":{"x":{"datum":1641676280000,"type":"temporal"},"y":{"datum":78810},"y2":{"datum":76585}}},
{"data":{"values":[{}]},"mark":{"type":"rule","color":"#e0e3eb"},"encoding":{"x":{"datum":1645373580000,"type":"temporal"},"y":{"datum":78810},"y2":{"datum":76585}}},
{"data":{"values":[{}]},"mark":{"type":"rule","color":"#e0e3eb"},"encoding":{"x":{"datum":1649460060000,"type":"temporal"},"y":{"datum":78810},"y2":{"datum":76585}}},
{"data":{"values":[{}]},"mark":{"type":"rule","color":"#e0e3eb"},"encoding":{"x":{"datum":1643330330000,"type":"temporal"},"y":{"datum":6870},"y2":{"datum":4892}}},
{"data":{"values":[{}]},"mark":{"type":"rule","color":"#e0e3eb"},"encoding":{"x":{"datum":1667362770000,"type":"temporal"},"y":{"datum":6870},"y2":{"datum":4892}}},
{"data":{"values":[{}]},"mark":{"type":"point","shape":"M-.9,-.6H.9V.8H-.1M-.9,-.6V0M-.9,-.2H.9M-.5,-.9V-.4M.5,-.9V-.4M-.9,.5H.1M-.2,.2L.1,.5L-.2,.8","size":196,"color":"#131722","opacity":1,"strokeWidth":1},"encoding":{"x":{"datum":1643946550000,"type":"temporal"},"y":{"datum":5881}}},
{"data":{"values":[{}]},"mark":{"type":"text","text":"1D","fontSize":10},"encoding":{"x":{"datum":1636616820000,"type":"temporal"},"y":{"datum":5881}}},
{"data":{"values":[{}]},"mark":{"type":"text","text":"5D","fontSize":10},"encoding":{"x":{"datum":1637330330000,"type":"temporal"},"y":{"datum":5881}}},
{"data":{"values":[{}]},"mark":{"type":"text","text":"1M","fontSize":10},"encoding":{"x":{"datum":1638108710000,"type":"temporal"},"y":{"datum":5881}}},
{"data":{"values":[{}]},"mark":{"type":"text","text":"3M","fontSize":10},"encoding":{"x":{"datum":1638854660000,"type":"temporal"},"y":{"datum":5881}}},
{"data":{"values":[{}]},"mark":{"type":"text","text":"6M","fontSize":10},"encoding":{"x":{"datum":1639600600000,"type":"temporal"},"y":{"datum":5881}}},
{"data":{"values":[{}]},"mark":{"type":"text","text":"YTD","fontSize":10},"encoding":{"x":{"datum":1640443850000,"type":"temporal"},"y":{"datum":5881}}},
{"data":{"values":[{}]},"mark":{"type":"text","text":"1Y","fontSize":10},"encoding":{"x":{"datum":1641287090000,"type":"temporal"},"y":{"datum":5881}}},
{"data":{"values":[{}]},"mark":{"type":"text","text":"5Y","fontSize":10},"encoding":{"x":{"datum":1642000600000,"type":"temporal"},"y":{"datum":5881}}},
{"data":{"values":[{}]},"mark":{"type":"text","text":"All","fontSize":10},"encoding":{"x":{"datum":1642746550000,"type":"temporal"},"y":{"datum":5881}}},
{"data":{"values":[{}]},"mark":{"type":"text","text":"06:05:55 (UTC-5)","fontSize":10.5},"encoding":{"x":{"datum":1665676280000,"type":"temporal"},"y":{"datum":5881}}},
{"data":{"values":[{}]},"mark":{"type":"text","text":"%","fontSize":11},"encoding":{"x":{"datum":1667946550000,"type":"temporal"},"y":{"datum":5881}}},
{"data":{"values":[{}]},"mark":{"type":"text","text":"log","fontSize":11},"encoding":{"x":{"datum":1668692500000,"type":"temporal"},"y":{"datum":5881}}},
{"data":{"values":[{}]},"mark":{"type":"text","text":"auto","fontSize":11,"color":"#2962ff"},"encoding":{"x":{"datum":1669600600000,"type":"temporal"},"y":{"datum":5881}}},
{"data":{"values":[{}]},"mark":{"type":"text","text":"⚙","font":"DejaVu Sans","fontSize":14},"encoding":{"x":{"datum":1669373580000,"type":"temporal"},"y":{"datum":9095}}},
{"data":{"values":[{}]},"mark":{"type":"point","shape":"circle","filled":true,"size":380,"fill":"white","stroke":"#eceef3","opacity":1},"encoding":{"x":{"datum":1667784390000,"type":"temporal"},"y":{"datum":14534}}},
{"data":{"values":[{}]},"mark":{"type":"text","text":"»","fontSize":16,"color":"#50535e"},"encoding":{"x":{"datum":1667784390000,"type":"temporal"},"y":{"datum":14534}}}
]}
